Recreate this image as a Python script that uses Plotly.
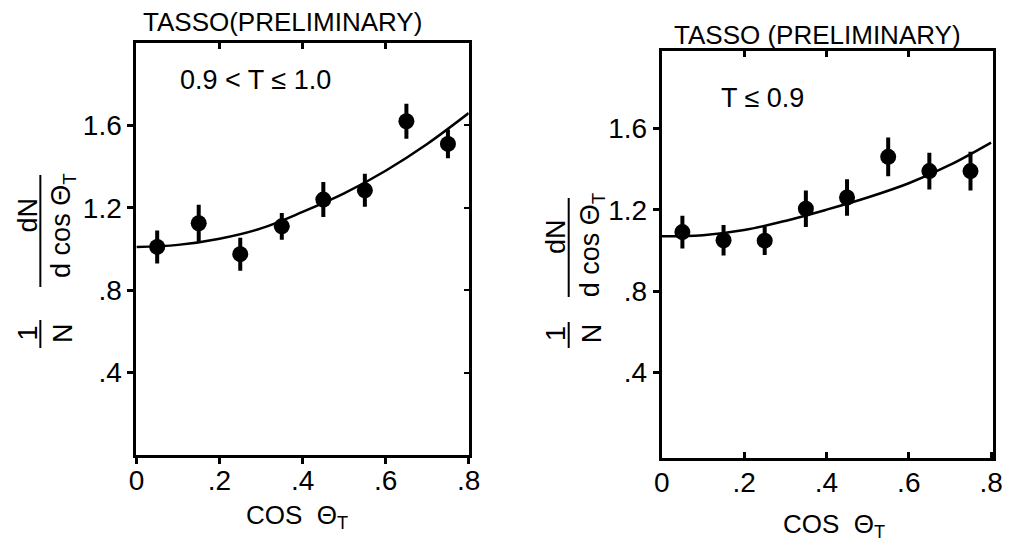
import plotly.graph_objects as go

# ---- data ----
left_cos = [0.05, 0.15, 0.25, 0.35, 0.45, 0.55, 0.65, 0.75]
left_val = [1.01, 1.125, 0.975, 1.11, 1.24, 1.285, 1.62, 1.51]
left_err = [0.08, 0.09, 0.08, 0.065, 0.085, 0.08, 0.085, 0.07]

right_cos = [0.05, 0.15, 0.25, 0.35, 0.45, 0.55, 0.65, 0.75]
right_val = [1.09, 1.05, 1.048, 1.205, 1.26, 1.46, 1.39, 1.39]
right_err = [0.08, 0.075, 0.07, 0.09, 0.09, 0.095, 0.09, 0.095]

curve_cos = [0.0, 0.1, 0.2, 0.3, 0.4, 0.5, 0.6, 0.7, 0.8]
left_curve = [1.01, 1.02, 1.05, 1.10, 1.18, 1.27, 1.38, 1.51, 1.66]
right_curve = [1.07, 1.075, 1.10, 1.145, 1.20, 1.26, 1.33, 1.42, 1.53]

x_tickvals = [0, 0.2, 0.4, 0.6, 0.8]
x_ticktext = ["0", ".2", ".4", ".6", ".8"]
y_tickvals = [0.4, 0.8, 1.2, 1.6]
y_ticktext = [".4", ".8", "1.2", "1.6"]

titles = ["TASSO(PRELIMINARY)", "TASSO (PRELIMINARY)"]
cuts = ["0.9 < T ≤ 1.0", "T ≤ 0.9"]
xlabel = "COS  Θ<sub>T</sub>"

FONT = "Liberation Sans"
W, H = 1012, 541

def px(x):
    return x / W

def py(y):
    return 1 - y / H

fig = go.Figure()

panels = [
    dict(cos=left_cos, val=left_val, err=left_err, curve=left_curve, x="x", y="y"),
    dict(cos=right_cos, val=right_val, err=right_err, curve=right_curve, x="x2", y="y2"),
]
for p in panels:
    fig.add_trace(go.Scatter(x=curve_cos, y=p["curve"], mode="lines",
                             line=dict(color="black", width=2.5, shape="spline"),
                             xaxis=p["x"], yaxis=p["y"], showlegend=False, hoverinfo="skip"))
    fig.add_trace(go.Scatter(x=p["cos"], y=p["val"], mode="markers",
                             marker=dict(color="black", size=16),
                             error_y=dict(type="data", array=p["err"], color="black",
                                          thickness=4, width=0),
                             xaxis=p["x"], yaxis=p["y"], showlegend=False))

axis_common = dict(showgrid=False, zeroline=False, showline=True, linecolor="black",
                   linewidth=3, mirror=True, ticklen=6, tickwidth=2.5, tickcolor="black",
                   tickfont=dict(family=FONT, size=28, color="black"))

L_dom_x = [px(131), px(470)]
L_dom_y = [py(455), py(43)]
R_dom_x = [px(667), px(1005)]
R_dom_y = [py(458), py(51)]

fig.update_layout(
    width=W, height=H, margin=dict(l=0, r=0, t=0, b=0),
    paper_bgcolor="white", plot_bgcolor="white",
    xaxis=dict(domain=L_dom_x, range=[0, 0.8], tickvals=x_tickvals, ticktext=x_ticktext,
               ticks="outside", ticklabelstandoff=-8, **axis_common),
    yaxis=dict(domain=L_dom_y, range=[0, 2.0], tickvals=y_tickvals, ticktext=y_ticktext,
               ticks="outside", **axis_common),
    xaxis2=dict(domain=R_dom_x, range=[0, 0.805], tickvals=x_tickvals, ticktext=x_ticktext,
                ticks="inside", anchor="y2", ticklabelstandoff=-3, **axis_common),
    yaxis2=dict(domain=R_dom_y, range=[-0.02, 1.98], tickvals=y_tickvals, ticktext=y_ticktext,
                ticks="outside", anchor="x2", **axis_common),
    # inner ticks on top / right frames
    xaxis3=dict(overlaying="x", matches="x", side="top", anchor="y", ticks="inside",
                tickvals=[0.2, 0.4, 0.6], showticklabels=False, showline=False, showgrid=False,
                zeroline=False, ticklen=6, tickwidth=2.5, tickcolor="black"),
    yaxis3=dict(overlaying="y", matches="y", side="right", anchor="x", ticks="inside",
                tickvals=y_tickvals, showticklabels=False, showline=False, showgrid=False,
                zeroline=False, ticklen=5, tickwidth=2, tickcolor="black"),
    xaxis4=dict(overlaying="x2", matches="x2", side="top", anchor="y2", ticks="inside",
                tickvals=[0.2, 0.4, 0.6], showticklabels=False, showline=False, showgrid=False,
                zeroline=False, ticklen=6, tickwidth=2.5, tickcolor="black"),
)
# dummy traces to activate overlay axes
fig.add_trace(go.Scatter(x=[None], y=[None], xaxis="x3", yaxis="y3", showlegend=False))
fig.add_trace(go.Scatter(x=[None], y=[None], xaxis="x4", yaxis="y2", showlegend=False))

def ann(text, x, y, size, angle=0):
    fig.add_annotation(text=text, x=px(x), y=py(y), xref="paper", yref="paper",
                       showarrow=False, textangle=angle, xanchor="center", yanchor="middle",
                       font=dict(family=FONT, size=size, color="black"))

# titles and cut labels
ann(titles[0], 280, 22, 26)
ann(titles[1], 826, 35, 26)
ann(cuts[0], 252, 80, 27)
ann(cuts[1], 770, 98, 27)
# x labels
ann(xlabel, 295, 516, 26)
ann(xlabel, 843, 525, 26)

# y labels: (1/N) (dN / d cos Θ_T), rotated
ylab = [
    dict(num_x=20, den_x=56, line_x=33, frac_y=(175, 287), num_y=215, den_y=225, one_y=333, nline=(320, 348)),
    dict(num_x=559, den_x=596, line_x=572, frac_y=(198, 297), num_y=236, den_y=245, one_y=333, nline=(322, 348)),
]
for l in ylab:
    ann("dN", l["num_x"], l["num_y"], 27, -90)
    ann("d cos Θ<sub>T</sub>", l["den_x"], l["den_y"], 27, -90)
    ann("1", l["num_x"], l["one_y"], 27, -90)
    ann("N", l["den_x"], l["one_y"], 27, -90)
    fig.add_shape(type="line", xref="paper", yref="paper",
                  x0=px(l["line_x"]), x1=px(l["line_x"]), y0=py(l["frac_y"][0]), y1=py(l["frac_y"][1]),
                  line=dict(color="black", width=2))
    fig.add_shape(type="line", xref="paper", yref="paper",
                  x0=px(l["line_x"]), x1=px(l["line_x"]), y0=py(l["nline"][0]), y1=py(l["nline"][1]),
                  line=dict(color="black", width=2))

fig.write_html("out.html")
